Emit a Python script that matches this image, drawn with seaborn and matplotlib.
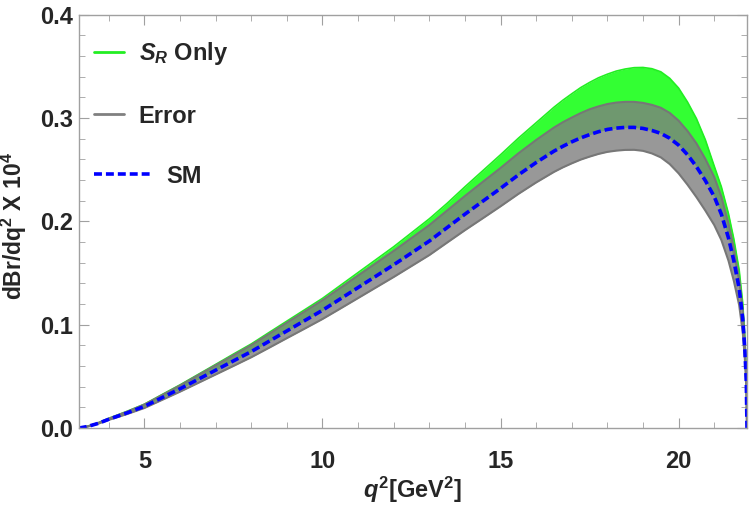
import numpy as np
import pandas as pd
import matplotlib
matplotlib.use('Agg')
import matplotlib.pyplot as plt
from matplotlib.lines import Line2D
from matplotlib.ticker import MultipleLocator
import seaborn as sns

# dados =======================================================================
q2 = [3.157, 3.4, 3.7, 4.0, 4.5, 5.0, 5.5, 6.0, 6.5, 7.0, 7.5, 8.0, 8.5, 9.0,
      9.5, 10.0, 10.5, 11.0, 11.5, 12.0, 12.5, 13.0, 13.5, 14.0, 14.5, 15.0,
      15.5, 16.0, 16.5, 16.75, 17.0, 17.25, 17.5, 17.75, 18.0, 18.25, 18.5,
      18.75, 19.0, 19.25, 19.5, 19.75, 20.0, 20.25, 20.5, 20.75, 21.0, 21.2,
      21.4, 21.55, 21.7, 21.8, 21.86, 21.9, 21.92]
sm = [0.0, 0.0015, 0.0045, 0.0085, 0.0145, 0.021, 0.0295, 0.038, 0.047, 0.056,
      0.065, 0.074, 0.084, 0.094, 0.104, 0.114, 0.125, 0.136, 0.147, 0.158,
      0.1695, 0.181, 0.194, 0.207, 0.2195, 0.232, 0.245, 0.257, 0.268, 0.2727,
      0.277, 0.2808, 0.284, 0.2868, 0.289, 0.2903, 0.291, 0.291, 0.290, 0.288,
      0.2852, 0.2805, 0.2738, 0.2645, 0.253, 0.2395, 0.224, 0.207, 0.184,
      0.162, 0.135, 0.106, 0.076, 0.045, 0.0]
sr_hi = [0.0, 0.0017, 0.005, 0.0094, 0.016, 0.0231, 0.0325, 0.0418, 0.0517,
         0.0616, 0.0716, 0.0814, 0.0925, 0.1035, 0.1145, 0.1255, 0.138,
         0.1505, 0.163, 0.1755, 0.189, 0.2025, 0.2175, 0.2335, 0.249, 0.2645,
         0.2805, 0.2955, 0.3105, 0.3173, 0.3235, 0.3295, 0.3345, 0.339,
         0.3425, 0.3455, 0.3475, 0.3488, 0.349, 0.3478, 0.3448, 0.3385, 0.329,
         0.3155, 0.2995, 0.279, 0.2535, 0.2335, 0.2075, 0.183, 0.153, 0.121,
         0.088, 0.053, 0.0]
err_hi = [0.0, 0.0016, 0.0049, 0.0092, 0.0157, 0.0228, 0.032, 0.0412, 0.051,
          0.0608, 0.0705, 0.0803, 0.0911, 0.102, 0.1128, 0.1237, 0.1356,
          0.1476, 0.1595, 0.1714, 0.1839, 0.1964, 0.2105, 0.2246, 0.2382,
          0.2517, 0.2658, 0.2788, 0.2908, 0.296, 0.3005, 0.3048, 0.3085,
          0.3113, 0.3136, 0.315, 0.3157, 0.3157, 0.3147, 0.3128, 0.31, 0.305,
          0.2975, 0.2875, 0.2755, 0.2605, 0.243, 0.224, 0.198, 0.174, 0.1445,
          0.1135, 0.0815, 0.048, 0.0]
err_lo = [0.0, 0.0014, 0.0042, 0.0079, 0.0134, 0.0194, 0.0273, 0.0352, 0.0435,
          0.0518, 0.0601, 0.0685, 0.0777, 0.087, 0.0962, 0.1055, 0.1156,
          0.1258, 0.136, 0.1462, 0.1568, 0.1674, 0.1795, 0.1915, 0.203,
          0.2146, 0.2266, 0.2377, 0.2479, 0.2523, 0.2562, 0.2598, 0.2627,
          0.2653, 0.2673, 0.2685, 0.2692, 0.2693, 0.2683, 0.2658, 0.262,
          0.2555, 0.2465, 0.2355, 0.2235, 0.2105, 0.1965, 0.182, 0.162,
          0.1425, 0.119, 0.093, 0.067, 0.040, 0.0]

df = pd.DataFrame({'q2': q2, 'sm': sm, 'sr_hi': sr_hi,
                   'err_hi': err_hi, 'err_lo': err_lo})

# estilo ======================================================================
sns.set_style('ticks')
plt.rcParams['font.family'] = ['Liberation Sans', 'DejaVu Sans']
plt.rcParams['font.weight'] = 'bold'
plt.rcParams['axes.labelweight'] = 'bold'
plt.rcParams['mathtext.fontset'] = 'custom'
plt.rcParams['mathtext.rm'] = 'Liberation Sans:bold'
plt.rcParams['mathtext.it'] = 'Liberation Sans:bold:italic'
plt.rcParams['mathtext.bf'] = 'Liberation Sans:bold'

fig = plt.figure(figsize=(7.5, 5.09), dpi=100)
ax = fig.add_axes([0.105, 0.159, 0.891, 0.812])

# bandas
ax.fill_between(df['q2'], df['sm'], df['sr_hi'], color='#33ff33', lw=0)
ax.plot(df['q2'], df['sr_hi'], color='#22ee22', lw=1.2)
ax.fill_between(df['q2'], df['err_lo'], df['err_hi'], color='#7f7f7f',
                alpha=0.8, lw=0)
ax.plot(df['q2'], df['err_hi'], color='#777777', lw=1.5)
ax.plot(df['q2'], df['err_lo'], color='#777777', lw=1.5)
tracejado = (0, (2.2, 1.1))
sns.lineplot(data=df, x='q2', y='sm', ax=ax, color='#0000ff', lw=2.6,
             linestyle=tracejado)

ax.set_xlim(3.157, 21.92)
ax.set_ylim(0, 0.4)
ax.xaxis.set_major_locator(MultipleLocator(5))
ax.xaxis.set_minor_locator(MultipleLocator(1))
ax.yaxis.set_major_locator(MultipleLocator(0.1))
ax.yaxis.set_minor_locator(MultipleLocator(0.02))
ax.yaxis.set_major_formatter(lambda v, p: f'{v:.1f}')

for s in ax.spines.values():
    s.set_color('#a0a0a0')
    s.set_linewidth(1.0)
ax.tick_params(which='both', direction='in', top=True, right=True,
               color='#a0a0a0', labelsize=17)
ax.tick_params(axis='y', pad=4)
ax.tick_params(axis='x', pad=16)
ax.tick_params(which='major', length=7)
ax.tick_params(which='minor', length=4)
for lab in ax.get_xticklabels() + ax.get_yticklabels():
    lab.set_fontweight('bold')

ax.set_xlabel(r'$q^2$[GeV$^2$]', fontsize=17, labelpad=1)
ax.set_ylabel(r'dBr/dq$^2$ X 10$^4$', fontsize=16.5)
ax.yaxis.set_label_coords(-0.074, 0.49)

# legenda (duas partes: o tracejado do SM tem alça mais longa)
fonte = {'size': 17, 'weight': 'bold'}
leg1 = ax.legend([Line2D([], [], color='#22ee22', lw=2),
                  Line2D([], [], color='#808080', lw=2)],
                 [r'$S_R$ Only', 'Error'],
                 loc='upper left', bbox_to_anchor=(0.008, 0.962),
                 borderaxespad=0, frameon=False, prop=fonte,
                 handlelength=1.27, handletextpad=0.64, labelspacing=1.6)
ax.add_artist(leg1)
ax.legend([Line2D([], [], color='#0000ff', lw=2.6, linestyle=tracejado)],
          ['SM'], loc='upper left', bbox_to_anchor=(0.008, 0.66),
          borderaxespad=0, frameon=False, prop=fonte,
          handlelength=2.4, handletextpad=0.7)

fig.savefig('out.png', dpi=100)
